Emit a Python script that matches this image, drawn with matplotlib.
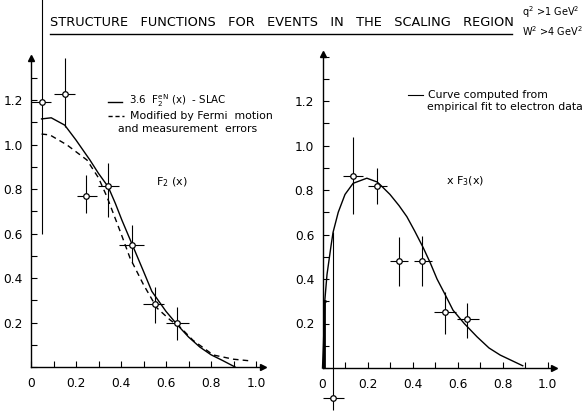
import matplotlib.pyplot as plt
from matplotlib.ticker import MultipleLocator, FixedLocator, FixedFormatter

plt.rcParams['font.family'] = ['DejaVu Sans']
plt.rcParams['mathtext.default'] = 'regular'

# ---- left panel: F2(x) ----
f2_x = [0.047, 0.151, 0.244, 0.343, 0.45, 0.551, 0.65]
f2_y = [1.19, 1.227, 0.768, 0.813, 0.548, 0.283, 0.198]
f2_ylo = [0.59, 0.147, 0.078, 0.139, 0.081, 0.085, 0.077]
f2_yhi = [0.50, 0.163, 0.095, 0.104, 0.09, 0.077, 0.072]
f2_xlo = [0.047, 0.051, 0.04, 0.045, 0.06, 0.053, 0.05]
f2_xhi = [0.043, 0.045, 0.049, 0.048, 0.05, 0.039, 0.05]

slac_x = [0.047, 0.09, 0.15, 0.20, 0.262, 0.30, 0.343, 0.375, 0.404, 0.45,
          0.50, 0.537, 0.60, 0.65, 0.70, 0.75, 0.80, 0.85, 0.907]
slac_y = [1.115, 1.12, 1.087, 1.02, 0.93, 0.87, 0.81, 0.735, 0.66, 0.55,
          0.43, 0.34, 0.25, 0.19, 0.135, 0.09, 0.055, 0.03, 0.0]

fermi_x = [0.047, 0.084, 0.16, 0.249, 0.30, 0.338, 0.40, 0.44, 0.50, 0.56,
           0.62, 0.662, 0.72, 0.81, 0.90, 0.98]
fermi_y = [1.047, 1.043, 0.998, 0.93, 0.85, 0.764, 0.60, 0.49, 0.37, 0.265,
           0.21, 0.18, 0.12, 0.054, 0.035, 0.027]

# ---- right panel: xF3(x) ----
f3_x = [0.047, 0.136, 0.243, 0.34, 0.442, 0.544, 0.642]
f3_y = [-0.135, 0.863, 0.818, 0.48, 0.48, 0.25, 0.22]
f3_ylo = [0.055, 0.173, 0.081, 0.112, 0.112, 0.097, 0.086]
f3_yhi = [0.745, 0.177, 0.082, 0.11, 0.113, 0.09, 0.07]
f3_xlo = [0.047, 0.046, 0.043, 0.04, 0.035, 0.048, 0.046]
f3_xhi = [0.048, 0.044, 0.044, 0.04, 0.045, 0.049, 0.053]

# point near x=0 drawn as bare cross
f3_x0 = [0.006]
f3_y0 = [0.3]

fit_x = [0.0, 0.004, 0.01, 0.02, 0.038, 0.047, 0.07, 0.10, 0.136, 0.197,
         0.243, 0.26, 0.30, 0.34, 0.375, 0.41, 0.448, 0.48, 0.509, 0.545,
         0.58, 0.63, 0.687, 0.74, 0.79, 0.89]
fit_y = [0.0, 0.1, 0.3, 0.42, 0.55, 0.61, 0.70, 0.78, 0.83, 0.853,
         0.836, 0.82, 0.78, 0.73, 0.68, 0.615, 0.54, 0.47, 0.40, 0.33,
         0.26, 0.20, 0.14, 0.09, 0.058, 0.01]

xticks = [0, 0.2, 0.4, 0.6, 0.8, 1.0]
xticklabels = ['0', '0.2', '0.4', '0.6', '0.8', '1.0']
yticks = [0.2, 0.4, 0.6, 0.8, 1.0, 1.2]
yticklabels = ['0.2', '0.4', '0.6', '0.8', '1.0', '1.2']

W, H = 586, 412
fig = plt.figure(figsize=(W / 100, H / 100), dpi=100)


def fx(px):
    return px / W


def fy(py):
    return 1 - py / H


def make_axes(x0, y0, xmax, ymax):
    sx, sy = 225.0, 222.5
    ax = fig.add_axes([fx(x0), fy(y0), xmax * sx / W, ymax * sy / H])
    ax.set_xlim(0, xmax)
    ax.set_ylim(0, ymax)
    ax.spines['top'].set_visible(False)
    ax.spines['right'].set_visible(False)
    for s in ('left', 'bottom'):
        ax.spines[s].set_linewidth(1.0)
    ax.xaxis.set_major_locator(FixedLocator(xticks))
    ax.xaxis.set_major_formatter(FixedFormatter(xticklabels))
    ax.yaxis.set_major_locator(FixedLocator(yticks))
    ax.yaxis.set_major_formatter(FixedFormatter(yticklabels))
    ax.xaxis.set_minor_locator(MultipleLocator(0.1))
    ax.yaxis.set_minor_locator(MultipleLocator(0.1))
    ax.tick_params(which='both', direction='in', length=4, width=0.8)
    ax.tick_params(axis='x', labelsize=8.8, pad=7)
    ax.tick_params(axis='y', labelsize=8.8, pad=6)
    ax.patch.set_alpha(0)
    # arrow heads on the axes
    ax.plot([xmax], [0], marker='>', color='k', ms=5, clip_on=False)
    ax.plot([0], [ymax], marker='^', color='k', ms=5, clip_on=False)
    return ax


ax1 = make_axes(31, 367, 1.03, 1.39)
ax1.plot(slac_x, slac_y, color='k', lw=1.0, clip_on=False)
ax1.plot(fermi_x, fermi_y, color='k', lw=1.0, ls=(0, (4, 3)), clip_on=False)
eb = ax1.errorbar(f2_x, f2_y, yerr=[f2_ylo, f2_yhi], xerr=[f2_xlo, f2_xhi],
                  fmt='o', ms=4, mfc='white', mec='k', mew=0.9,
                  ecolor='k', elinewidth=0.8, capsize=0, zorder=5)
for art in eb.lines[2]:
    art.set_clip_on(False)
eb.lines[0].set_clip_on(False)

ax2 = make_axes(322.5, 368, 1.03, 1.41)
ax2.plot(fit_x, fit_y, color='k', lw=1.0, clip_on=False)
eb2 = ax2.errorbar(f3_x, f3_y, yerr=[f3_ylo, f3_yhi], xerr=[f3_xlo, f3_xhi],
                   fmt='o', ms=4, mfc='white', mec='k', mew=0.9,
                   ecolor='k', elinewidth=0.8, capsize=0, zorder=5)
for art in eb2.lines[2]:
    art.set_clip_on(False)
eb2.lines[0].set_clip_on(False)
ax2.errorbar(f3_x0, f3_y0, yerr=[[0.3], [0.0]], xerr=0.01, fmt='none',
             ecolor='k', elinewidth=2.0, capsize=0)

# ---- labels inside panels ----
fs_leg = 7.8
fig.lines.append(plt.Line2D([fx(108), fx(122)], [fy(102), fy(102)],
                            transform=fig.transFigure, color='k', lw=1.0))
fig.text(fx(129), fy(101), '3.6  F$_2^{eN}$ (x)  - SLAC', fontsize=7.4,
         va='center')
fig.lines.append(plt.Line2D([fx(108), fx(124)], [fy(116), fy(116)],
                            transform=fig.transFigure, color='k', lw=1.0,
                            ls=(0, (3, 2))))
fig.text(fx(130), fy(116), 'Modified by Fermi  motion', fontsize=fs_leg,
         va='center')
fig.text(fx(118), fy(129), 'and measurement  errors', fontsize=fs_leg,
         va='center')
fig.text(fx(156), fy(182), 'F$_2$ (x)', fontsize=8, va='center')

fig.lines.append(plt.Line2D([fx(408), fx(423)], [fy(95), fy(95)],
                            transform=fig.transFigure, color='k', lw=0.8))
fig.text(fx(428), fy(95), 'Curve computed from', fontsize=fs_leg,
         va='center')
fig.text(fx(427), fy(107), 'empirical fit to electron data', fontsize=fs_leg,
         va='center')
fig.text(fx(446), fy(181), 'x F$_3$(x)', fontsize=8, va='center')

# ---- title ----
fig.text(fx(50), fy(23), 'STRUCTURE   FUNCTIONS   FOR   EVENTS   IN   THE   SCALING   REGION',
         fontsize=9.3, va='center')
fig.lines.append(plt.Line2D([fx(50), fx(512)], [fy(34), fy(34)],
                            transform=fig.transFigure, color='k', lw=1.0))
fig.text(fx(522), fy(12), 'q$^2$ >1 GeV$^2$', fontsize=7, va='center')
fig.text(fx(522), fy(31), 'W$^2$ >4 GeV$^2$', fontsize=7, va='center')

fig.savefig('out.png', dpi=100)
